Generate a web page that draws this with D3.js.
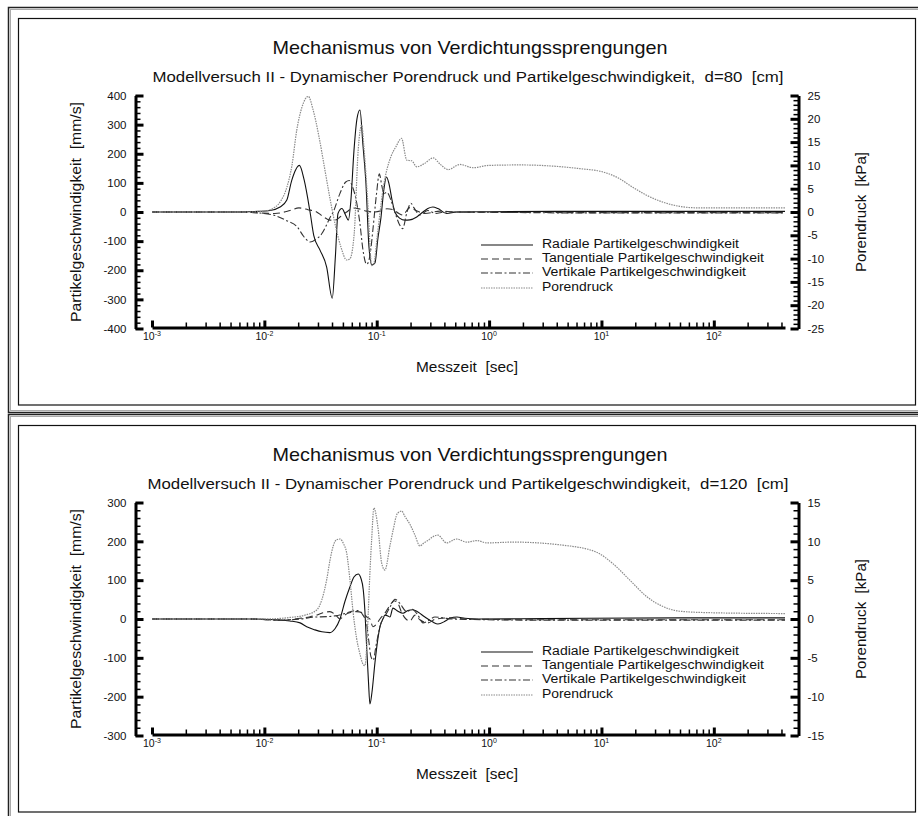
<!DOCTYPE html>
<html>
<head>
<meta charset="utf-8">
<script src="https://cdn.jsdelivr.net/npm/d3@7"></script>
<style>
  body { margin: 0; background: #fff; }
  text { font-family: "Liberation Sans", Arial, sans-serif; fill: #111; white-space: pre; }
</style>
</head>
<body>
<script>
// ---- data: [time in s, value] ----
// d = 80 cm, velocities in mm/s, pore pressure in kPa
const radial80 = [
  [0.001,0],[0.006,0],[0.0088,2],[0.0112,5],[0.0138,17],[0.0158,40],[0.0175,108],[0.0205,160],
  [0.0226,110],[0.0255,0],[0.0275,-80],[0.0312,-130],[0.0358,-188],[0.0402,-296],[0.0429,-150],
  [0.0452,-5],[0.049,12],[0.0527,-10],[0.0559,-28],[0.0589,40],[0.0627,210],[0.0667,320],[0.0709,350],
  [0.0754,230],[0.0802,97],[0.0853,-120],[0.0906,-182],[0.0964,-175],[0.1025,-90],[0.109,-20],
  [0.116,80],[0.122,120],[0.128,100],[0.137,40],[0.145,0],[0.161,-22],[0.178,-28],[0.197,-27],
  [0.227,-17],[0.258,0],[0.285,12],[0.316,17],[0.35,12],[0.419,-5],[0.514,0],[1,1],[5,2],[430,2]
];
const tangential80 = [
  [0.001,0],[0.006,0],[0.0088,-3],[0.0124,-5],[0.0169,5],[0.0203,14],[0.0244,8],[0.0292,0],
  [0.0332,-15],[0.0383,-28],[0.0434,-27],[0.0471,-17],[0.054,0],[0.0618,14],[0.0709,10],[0.0813,3],
  [0.0931,0],[0.1068,3],[0.1232,11],[0.1394,8],[0.1576,-5],[0.17,-10],[0.1974,15],[0.2233,5],
  [0.2685,-5],[0.365,3],[0.497,0],[1,-1],[5,-2],[430,-2]
];
const vertical80 = [
  [0.001,0],[0.006,0],[0.0088,-3],[0.0124,-12],[0.0158,-30],[0.0196,-51],[0.0225,-85],[0.0255,-103],
  [0.0285,-95],[0.0325,-74],[0.0362,-40],[0.0383,-20],[0.041,0],[0.047,63],[0.053,103],[0.057,108],
  [0.0601,92],[0.0653,45],[0.0709,-40],[0.0754,-130],[0.0813,-180],[0.087,-150],[0.0925,-60],
  [0.0994,60],[0.1055,131],[0.111,90],[0.116,63],[0.123,68],[0.134,40],[0.145,0],[0.158,-40],
  [0.17,-57],[0.186,0],[0.2015,30],[0.214,15],[0.242,-10],[0.285,5],[0.336,-5],[0.4,0],[1,-1],[5,-3],[430,-3]
];
const pore80 = [
  [0.001,0],[0.0075,0],[0.01,0.2],[0.0124,1.0],[0.0141,2.5],[0.0159,5.4],[0.0176,10],[0.0194,17.5],
  [0.0216,22.5],[0.0246,24.8],[0.0271,22],[0.0306,16.2],[0.0346,9],[0.0383,3],[0.0425,-2.5],
  [0.048,-7.5],[0.054,-10.3],[0.0578,-10],[0.063,-4.7],[0.0684,13.3],[0.0735,18.7],[0.0769,14],
  [0.083,2.5],[0.0903,-11.5],[0.0944,-11],[0.1016,-4.7],[0.1147,5.4],[0.1338,11.9],[0.1482,14],
  [0.1662,15.8],[0.1853,11.1],[0.2044,11.0],[0.2274,9.7],[0.2657,10.4],[0.3183,11.6],[0.365,10.3],
  [0.4325,9.1],[0.5495,10.2],[0.722,9.5],[1.0,10.0],[1.88,10.1],[3.93,9.8],[6.43,9.3],[10.3,8.6],
  [14.6,7.1],[19.0,5.3],[25.2,3.6],[35.4,2.1],[49.8,1.2],[70.2,0.9],[170,0.9],[430,0.9]
];

// d = 120 cm
const radial120 = [
  [0.001,0],[0.0075,0],[0.0124,-2],[0.0169,-5],[0.0208,-10],[0.0238,-20],[0.0282,-28],[0.0325,-33],
  [0.0383,-35],[0.0425,-25],[0.0471,0],[0.0521,45],[0.0578,83],[0.0627,108],[0.0684,116],[0.0723,105],
  [0.0759,75],[0.0785,20],[0.0813,-71],[0.0844,-160],[0.087,-219],[0.0906,-190],[0.0964,-113],
  [0.1025,-50],[0.1068,-20],[0.1135,0],[0.1183,10],[0.1258,8],[0.131,5],[0.1394,28],[0.1544,20],
  [0.1711,15],[0.1895,22],[0.2099,24],[0.2326,18],[0.2685,5],[0.3162,-8],[0.3503,-13],[0.4045,-6],
  [0.448,2],[0.517,5],[0.609,2],[0.779,0],[3,1],[50,3],[430,3]
];
const tangential120 = [
  [0.001,0],[0.0075,0],[0.0138,-3],[0.0208,2],[0.0255,6],[0.0292,10],[0.0332,16],[0.0383,19],
  [0.0425,12],[0.0471,0],[0.051,8],[0.0554,15],[0.0662,19],[0.0759,15],[0.0818,5],[0.087,0],
  [0.0925,-20],[0.0984,-15],[0.1068,0],[0.1183,15],[0.131,35],[0.1422,47],[0.1544,40],[0.1676,15],
  [0.182,0],[0.1974,-5],[0.2188,10],[0.2423,-2],[0.2854,-10],[0.3365,0],[0.448,3],[0.609,0],[3,-2],[430,-2]
];
const vertical120 = [
  [0.001,0],[0.0075,0],[0.0138,-3],[0.0208,0],[0.0282,5],[0.0358,6],[0.0425,8],[0.0521,14],
  [0.0601,20],[0.0681,22],[0.0754,10],[0.0813,-12],[0.0853,-60],[0.0888,-97],[0.0931,-106],
  [0.0984,-70],[0.1068,-20],[0.1225,15],[0.1338,35],[0.1452,51],[0.1608,40],[0.1845,19],[0.2056,25],
  [0.2326,10],[0.2576,-10],[0.2854,-5],[0.3296,5],[0.388,3],[0.467,0],[3,-3],[430,-3]
];
const pore120 = [
  [0.001,0],[0.01,0],[0.0169,0.2],[0.023,0.5],[0.0292,1.15],[0.0325,2.5],[0.0358,5],[0.0383,7.5],
  [0.041,9.4],[0.0438,10.2],[0.0471,10.3],[0.0506,9.7],[0.054,8.5],[0.0578,5],[0.0618,0.7],
  [0.0662,-2.5],[0.0709,-4.5],[0.0754,-5.8],[0.0785,-6.0],[0.0818,-3],[0.084,0.7],[0.087,6],
  [0.0901,10.2],[0.0944,14.3],[0.0984,13.5],[0.1031,11.5],[0.1106,7.2],[0.1183,6.3],[0.131,9.4],
  [0.1402,11.5],[0.1528,13.6],[0.1666,13.9],[0.1782,13.2],[0.1974,12.2],[0.2188,10.8],[0.2423,9.4],
  [0.263,9.8],[0.2854,10.1],[0.3162,10.6],[0.3503,10.8],[0.4188,9.8],[0.514,10.3],[0.631,9.9],
  [0.779,10.1],[0.951,9.8],[1.63,9.9],[4.56,9.5],[9.04,8.6],[12.7,7.1],[17.9,5.0],[25.2,2.9],
  [35.4,1.6],[49.8,1.0],[98.6,0.8],[430,0.7]
];

// ---- ticks and labels ----
const xDecades = [-3, -2, -1, 0, 1, 2];
const leftTicks80 = [400, 300, 200, 100, 0, -100, -200, -300, -400];
const rightTicks80 = [25, 20, 15, 10, 5, 0, -5, -10, -15, -20, -25];
const leftTicks120 = [300, 200, 100, 0, -100, -200, -300];
const rightTicks120 = [15, 10, 5, 0, -5, -10, -15];
const legendLabels = ['Radiale Partikelgeschwindigkeit', 'Tangentiale Partikelgeschwindigkeit',
  'Vertikale Partikelgeschwindigkeit', 'Porendruck'];
const mainTitle = 'Mechanismus von Verdichtungssprengungen';
const subTitles = ['Modellversuch II - Dynamischer Porendruck und Partikelgeschwindigkeit,  d=80  [cm]',
  'Modellversuch II - Dynamischer Porendruck und Partikelgeschwindigkeit,  d=120  [cm]'];

const panels = [
  { oy: 0, sub: subTitles[0], subLen: 631, vMax: 400, pMax: 25, left: leftTicks80, right: rightTicks80,
    series: [radial80, tangential80, vertical80, pore80] },
  { oy: 407, sub: subTitles[1], subLen: 641, vMax: 300, pMax: 15, left: leftTicks120, right: rightTicks120,
    series: [radial120, tangential120, vertical120, pore120] }
];

const styles = [
  { stroke: '#111', dash: null, width: 1.1 },
  { stroke: '#333', dash: '7,4', width: 1.1 },
  { stroke: '#333', dash: '7,2.5,2,2.5', width: 1.1 },
  { stroke: '#8a8a8a', dash: '1.5,1', width: 1.2 }
];

const svg = d3.select('body').append('svg')
  .attr('width', 918).attr('height', 816);

const font = '"Liberation Sans", Arial, sans-serif';
const x = d3.scaleLog().domain([1e-3, 430]).range([152, 785]);

panels.forEach(p => {
  const g = svg.append('g').attr('transform', `translate(0,${p.oy})`);

  // frames
  g.append('rect').attr('x', 8.5).attr('y', 7.5).attr('width', 915).attr('height', 405)
    .attr('fill', 'none').attr('stroke', '#222').attr('stroke-width', 1.5);
  g.append('rect').attr('x', 10.5).attr('y', 9.5).attr('width', 915).attr('height', 401)
    .attr('fill', 'none').attr('stroke', '#aaa').attr('stroke-width', 1);
  g.append('rect').attr('x', 18.5).attr('y', 18.5).attr('width', 897).attr('height', 386.5)
    .attr('fill', 'none').attr('stroke', '#111').attr('stroke-width', 1.2);

  const y = d3.scaleLinear().domain([-p.vMax, p.vMax]).range([328.5, 95.5]);
  const yp = d3.scaleLinear().domain([-p.pMax, p.pMax]).range([328.5, 95.5]);

  // titles
  g.append('text').attr('x', 470).attr('y', 54).attr('text-anchor', 'middle')
    .attr('font-size', 19).attr('textLength', 395).attr('lengthAdjust', 'spacingAndGlyphs')
    .text(mainTitle);
  g.append('text').attr('x', 468).attr('y', 82).attr('text-anchor', 'middle')
    .attr('font-size', 15.5).attr('textLength', p.subLen).attr('lengthAdjust', 'spacingAndGlyphs')
    .text(p.sub);

  // x axis
  const xMinor = [];
  xDecades.forEach(e => d3.range(2, 10).forEach(k => {
    const v = k * Math.pow(10, e);
    if (v <= 430) xMinor.push(v);
  }));
  const xMajor = xDecades.map(e => Math.pow(10, e));
  const gx = g.append('g').attr('transform', 'translate(0,327.5)');
  gx.call(d3.axisTop(x).tickValues(xMinor).tickSize(5).tickSizeOuter(0).tickFormat(''));
  gx.selectAll('line').attr('stroke-width', 1.5);
  gx.select('.domain').attr('stroke-width', 3);
  const gx2 = g.append('g').attr('transform', 'translate(0,327.5)');
  gx2.call(d3.axisTop(x).tickValues(xMajor).tickSize(7).tickSizeOuter(0).tickFormat(''));
  gx2.select('.domain').remove();
  gx2.selectAll('line').attr('stroke-width', 3);

  const xl = g.append('g');
  xDecades.forEach(e => {
    const t = xl.append('text').attr('x', x(Math.pow(10, e))).attr('y', 340)
      .attr('text-anchor', 'middle').attr('font-size', 10.5);
    t.append('tspan').text('10');
    t.append('tspan').attr('dy', -4.5).attr('font-size', 7).text(String(e));
  });

  // left axis
  const yMinor = d3.range(-p.vMax, p.vMax + 1, 20);
  const gl = g.append('g').attr('transform', 'translate(135.5,0)');
  gl.call(d3.axisRight(y).tickValues(yMinor).tickSize(5).tickSizeOuter(0).tickFormat(''));
  gl.selectAll('line').attr('stroke-width', 1.5);
  gl.select('.domain').attr('stroke-width', 3);
  const gl2 = g.append('g').attr('transform', 'translate(135.5,0)');
  gl2.call(d3.axisRight(y).tickValues(p.left).tickSize(8).tickSizeOuter(0).tickFormat(''));
  gl2.select('.domain').remove();
  gl2.selectAll('line').attr('stroke-width', 3);
  const gll = g.append('g').attr('transform', 'translate(135.5,0)');
  gll.call(d3.axisLeft(y).tickValues(p.left).tickSize(0).tickPadding(9).tickFormat(d => String(d)));
  gll.select('.domain').remove();
  gll.attr('font-size', 11.5).attr('font-family', font);

  // right axis
  const pMinor = d3.range(-p.pMax, p.pMax + 1, 1);
  const gr = g.append('g').attr('transform', 'translate(798.5,0)');
  gr.call(d3.axisLeft(yp).tickValues(pMinor).tickSize(5).tickSizeOuter(0).tickFormat(''));
  gr.selectAll('line').attr('stroke-width', 1.5);
  gr.select('.domain').attr('stroke-width', 3);
  const gr2 = g.append('g').attr('transform', 'translate(798.5,0)');
  gr2.call(d3.axisLeft(yp).tickValues(p.right).tickSize(8).tickSizeOuter(0).tickFormat(''));
  gr2.select('.domain').remove();
  gr2.selectAll('line').attr('stroke-width', 3);
  const grl = g.append('g').attr('transform', 'translate(798.5,0)');
  grl.call(d3.axisRight(yp).tickValues(p.right).tickSize(0).tickPadding(9).tickFormat(d => String(d)));
  grl.select('.domain').remove();
  grl.attr('font-size', 11.5).attr('font-family', font);

  // axis titles
  g.append('text').attr('transform', 'translate(81,212) rotate(-90)').attr('text-anchor', 'middle')
    .attr('font-size', 15.5).attr('textLength', 220).attr('lengthAdjust', 'spacingAndGlyphs')
    .text('Partikelgeschwindigkeit  [mm/s]');
  g.append('text').attr('transform', 'translate(866,212) rotate(-90)').attr('text-anchor', 'middle')
    .attr('font-size', 15).attr('textLength', 120).attr('lengthAdjust', 'spacingAndGlyphs')
    .text('Porendruck  [kPa]');
  g.append('text').attr('x', 467).attr('y', 372).attr('text-anchor', 'middle')
    .attr('font-size', 15).attr('textLength', 102).attr('lengthAdjust', 'spacingAndGlyphs')
    .text('Messzeit  [sec]');

  // curves
  p.series.forEach((s, i) => {
    const ys = i === 3 ? yp : y;
    const line = d3.line().x(d => x(d[0])).y(d => ys(d[1])).curve(d3.curveMonotoneX);
    g.append('path').datum(s).attr('d', line).attr('fill', 'none')
      .attr('stroke', styles[i].stroke).attr('stroke-width', styles[i].width)
      .attr('stroke-dasharray', styles[i].dash);
  });

  // legend
  const rows = [243, 257, 271, 286];
  const lens = [197, 222, 204, 71];
  const lg = g.append('g');
  legendLabels.forEach((lab, i) => {
    lg.append('line').attr('x1', 481).attr('x2', 533).attr('y1', rows[i] + 2).attr('y2', rows[i] + 2)
      .attr('stroke', styles[i].stroke).attr('stroke-width', 1.2)
      .attr('stroke-dasharray', styles[i].dash);
    lg.append('text').attr('x', 542).attr('y', rows[i] + 4.5).attr('font-size', 12)
      .attr('textLength', lens[i]).attr('lengthAdjust', 'spacingAndGlyphs').text(lab);
  });
});
</script>
</body>
</html>
